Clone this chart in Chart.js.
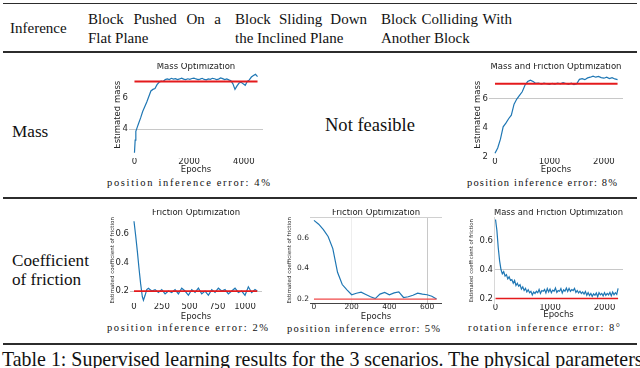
<!DOCTYPE html>
<html><head><meta charset="utf-8">
<script src="https://cdn.jsdelivr.net/npm/chart.js@4.4.1/dist/chart.umd.min.js"></script>
<style>
html,body{margin:0;padding:0;background:#fff;}
#page{position:relative;width:640px;height:368px;overflow:hidden;background:#fff;font-family:"Liberation Serif","Times New Roman",serif;color:#111;}
.t{position:absolute;white-space:nowrap;line-height:1;}
.rule{position:absolute;left:3px;width:634px;background:#2c2c2c;}
canvas{position:absolute;}
</style></head><body><div id="page">
<div class="rule" style="top:2.5px;height:1.5px"></div>
<div class="rule" style="top:50.5px;height:2px"></div>
<div class="rule" style="top:197px;height:1.5px"></div>
<div class="rule" style="top:342.5px;height:2.5px"></div>
<canvas id="c1"></canvas><canvas id="c2"></canvas><canvas id="c3"></canvas><canvas id="c4"></canvas><canvas id="c5"></canvas>
</div>
<script>
// ---------------- data ----------------
const headerTitle = "Inference";
const scenarioLine1 = [["Block","Pushed","On","a"],["Block","Sliding","Down"],["Block","Colliding","With"]];
const scenarioLine2 = ["Flat Plane","the Inclined Plane","Another Block"];
const rowLabels = [["Mass"],["Coefficient","of friction"]];
const notFeasible = "Not feasible";
const errorTexts = ["position inference error: 4%","position inference error: 8%","position inference error: 2%","position inference error: 5%","rotation inference error: 8°"];
const captionText = "Table 1: Supervised learning results for the 3 scenarios. The physical parameters";

const chartTitles = ["Mass Optimization","Mass and Friction Optimization","Friction Optimization","Friction Optimization","Mass and Friction Optimization"];
const yAxisLabels = ["Estimated mass","Estimated mass","Estimated coefficient of friction","Estimated coefficient of friction","Estimated coefficient of friction"];
const xAxisLabel = "Epochs";

const trueMass = 7;
const trueFriction = 0.2;

// Block pushed, mass
const pushMassEpochs = [0,25,50,100,150,225,300,375,450,525,600,675,750,825,900,975,1050,1125,1200,1275,1350,1425,1500,1575,1650,1725,1800,1875,1950,2025,2100,2175,2250,2325,2400,2475,2550,2625,2700,2775,2850,2925,3000,3075,3150,3225,3300,3375,3450,3525,3600,3675,3750,3825,3900,3975,4050,4125,4200,4275,4350,4425,4500];
const pushMassValues = [2.5,3.3,3.85,4.1,4.35,4.7,5.1,5.4,5.7,6.05,6.4,6.5,6.55,6.8,6.95,7.02,7.0,7.12,7.16,7.12,7.2,7.15,7.18,7.12,7.16,7.21,7.15,7.12,7.17,7.14,7.19,7.21,7.16,7.12,7.15,7.2,7.13,7.1,7.16,7.14,7.2,7.17,7.12,7.15,7.22,7.18,7.12,7.16,7.1,7.05,6.85,6.5,6.72,6.9,6.95,6.85,6.76,7.0,7.1,7.28,7.38,7.45,7.3];
const pushMassXTicks = [0,2000,4000];
const pushMassYTicks = [4,6];

// Block colliding, mass
const collideMassEpochs = [0,50,100,150,200,250,300,350,400,450,500,550,600,650,700,750,800,850,900,950,1000,1050,1100,1150,1200,1250,1300,1350,1400,1450,1500,1550,1600,1650,1700,1750,1800,1850,1900,1950,2000,2050,2100,2150,2200,2250];
const collideMassValues = [2.23,2.6,3.2,4.05,4.3,4.6,4.85,5.6,5.95,6.2,6.45,6.9,7.15,7.25,7.15,7.02,7.05,6.98,7.04,7.0,6.95,7.03,6.98,7.05,7.0,7.07,7.02,6.96,7.04,6.94,7.0,7.3,7.35,7.28,7.4,7.45,7.52,7.45,7.5,7.42,7.38,7.45,7.35,7.42,7.33,7.28];
const collideMassXTicks = [0,1000,2000];
const collideMassYTicks = [2,4,6];

// Block pushed, friction
const pushFricEpochs = [0,15,30,45,60,75,85,100,115,130,160,190,220,250,280,310,340,370,400,430,460,490,520,550,580,610,640,670,700,730,760,790,820,850,880,910,940,970,1000,1030,1060,1090,1110];
const pushFricValues = [0.69,0.59,0.48,0.36,0.25,0.16,0.135,0.17,0.21,0.22,0.2,0.21,0.19,0.21,0.18,0.2,0.19,0.21,0.18,0.22,0.2,0.17,0.21,0.19,0.22,0.18,0.2,0.17,0.21,0.19,0.22,0.2,0.21,0.18,0.2,0.22,0.19,0.2,0.17,0.23,0.19,0.21,0.2];
const pushFricXTicks = [0,250,500,750,1000];
const fricYTicks = [0.2,0.4,0.6];

// Block sliding, friction
const slideFricEpochs = [0,25,50,75,100,125,150,175,200,225,250,275,300,325,350,375,400,425,450,475,500,525,550,575,600,625,650];
const slideFricValues = [0.715,0.69,0.655,0.61,0.53,0.375,0.295,0.26,0.228,0.238,0.245,0.23,0.215,0.203,0.232,0.243,0.228,0.24,0.247,0.21,0.215,0.225,0.238,0.232,0.228,0.218,0.2];
const slideFricXTicks = [0,200,400,600];

// Block colliding, friction
const collideFricEpochs = [0,25,50,75,100,125,150,175,200,225,250,275,300,325,350,375,400,425,450,475,500,525,550,575,600,625,650,675,700,725,750,775,800,825,850,875,900,925,950,975,1000,1025,1050,1075,1100,1125,1150,1175,1200,1225,1250,1275,1300,1325,1350,1375,1400,1425,1450,1475,1500,1525,1550,1575,1600,1625,1650,1675,1700,1725,1750,1775,1800,1825,1850,1875,1900,1925,1950,1975,2000,2025,2050,2075,2100,2125,2150,2175,2200,2225,2250];
const collideFricValues = [
0.745,0.67,0.55,0.46,0.40,0.37,0.385,0.355,0.365,0.335,
0.35,0.325,0.33,0.305,0.325,0.29,0.305,0.285,0.295,0.265,
0.28,0.255,0.27,0.245,0.26,0.24,0.25,0.225,0.245,0.235,
0.25,0.24,0.262,0.235,0.255,0.25,0.262,0.238,0.268,0.245,
0.265,0.24,0.258,0.25,0.272,0.242,0.255,0.25,0.268,0.238,
0.26,0.25,0.272,0.248,0.27,0.25,0.262,0.255,0.27,0.242,
0.255,0.238,0.25,0.235,0.245,0.23,0.248,0.222,0.24,0.22,
0.235,0.215,0.232,0.222,0.238,0.212,0.24,0.225,0.235,0.218,
0.24,0.222,0.235,0.225,0.242,0.218,0.245,0.225,0.24,0.228,
0.27];
const collideFricXTicks = [0,1000,2000];

// ---------------- charts ----------------
const SANS = "'DejaVu Sans', sans-serif";
function lineChart(id, g, d){
  const cv = document.getElementById(id);
  cv.width = g.W; cv.height = g.H;
  cv.style.left = g.L+'px'; cv.style.top = g.T+'px';
  cv.style.width = g.W+'px'; cv.style.height = g.H+'px';
  const series = d.epochs.map((e,i)=>({x:e,y:d.values[i]}));
  const last = d.epochs[d.epochs.length-1];
  const truth = [{x:0,y:d.truth},{x:last,y:d.truth}];
  const scales = {
    x:{type:'linear',position:'bottom',min:g.xMin,max:g.xMax,
      afterBuildTicks:s=>{s.ticks=d.xTicks.map(v=>({value:v}));},
      afterFit:s=>{s.height=g.xH;},
      ticks:{autoSkip:false,maxRotation:0,minRotation:0,padding:g.xPad||0,color:'#262626',
        font:{family:SANS,size:g.tickFs||8.5,lineHeight:1},callback:v=>String(v)},
      grid:{drawTicks:false,lineWidth:1,color:c=>(g.xGrid&&c.tick&&g.xGrid[c.tick.value])||'rgba(0,0,0,0)'},
      border:{display:!!g.xBorder,color:g.xBorder||'#000',width:1},
      title:{display:true,text:xAxisLabel,color:'#262626',padding:0,font:{family:SANS,size:g.labFs||8.5,lineHeight:1}}
    },
    y:{type:'linear',position:'left',min:g.yMin,max:g.yMax,
      afterBuildTicks:s=>{s.ticks=d.yTicks.map(v=>({value:v}));},
      afterFit:s=>{s.width=g.yW;},
      ticks:{autoSkip:false,padding:g.yPad||1,color:'#262626',
        font:{family:SANS,size:g.tickFs||8.5,lineHeight:1},callback:d.yFmt},
      grid:{drawTicks:false,lineWidth:1,color:c=>(g.yGrid&&c.tick&&g.yGrid[c.tick.value])||'rgba(0,0,0,0)'},
      border:{display:!!g.yBorder,color:g.yBorder||'#000',width:1},
      title:{display:true,text:d.yLabel,color:'#262626',padding:0,font:{family:SANS,size:g.yLabFs||8.5,lineHeight:1}}
    }
  };
  if (g.frame){
    scales.x2 = {type:'linear',position:'top',min:0,max:1,display:true,ticks:{display:false},
      grid:{display:false,drawTicks:false},border:{display:true,color:g.frame,width:1},afterFit:s=>{s.height=0;}};
    scales.y2 = {type:'linear',position:'right',min:0,max:1,display:true,ticks:{display:false},
      grid:{display:false,drawTicks:false},border:{display:true,color:g.frame,width:1},afterFit:s=>{s.width=0;}};
  }
  return new Chart(cv,{
    type:'line',
    data:{datasets:[
      {data:truth,borderColor:g.red||'#e41a1c',borderWidth:g.redW||2,pointRadius:0,order:0},
      {data:series,borderColor:'#1f77b4',borderWidth:g.blueW||1.2,pointRadius:0,tension:0,order:1}
    ]},
    options:{
      responsive:false,animation:false,devicePixelRatio:1,events:[],
      layout:{padding:0},
      plugins:{legend:{display:false},tooltip:{enabled:false},
        title:{display:true,text:d.title,fullSize:false,color:'#1a1a1a',padding:0,
          font:{family:SANS,size:g.titleFs||8.5,weight:'normal',lineHeight:1}}},
      scales
    }
  });
}
const massFmt = v=>String(v);
const fricFmt = v=>v.toFixed(1);

lineChart('c1',{L:114,T:63,W:149,H:111,yW:15,xH:16,xMin:-200,xMax:4700,yMin:2.17,yMax:7.63,yGrid:{4:'#c8c8c8'},redW:2.2},
  {epochs:pushMassEpochs,values:pushMassValues,truth:trueMass,xTicks:pushMassXTicks,yTicks:pushMassYTicks,yFmt:massFmt,title:chartTitles[0],yLabel:yAxisLabels[0]});
lineChart('c2',{L:474,T:63,W:149,H:111,yW:15,xH:16,xMin:-110,xMax:2350,yMin:1.91,yMax:7.84,yGrid:{6:'#c8c8c8'},redW:2},
  {epochs:collideMassEpochs,values:collideMassValues,truth:trueMass,xTicks:collideMassXTicks,yTicks:collideMassYTicks,yFmt:massFmt,title:chartTitles[1],yLabel:yAxisLabels[1]});
lineChart('c3',{L:110,T:209,W:152,H:112,yW:20,xH:18,xMin:-36,xMax:1153,yMin:0.116,yMax:0.716,yLabFs:5.5,yGrid:{0.2:'#c8c8c8'},redW:1.8},
  {epochs:pushFricEpochs,values:pushFricValues,truth:trueFriction,xTicks:pushFricXTicks,yTicks:fricYTicks,yFmt:fricFmt,title:chartTitles[2],yLabel:yAxisLabels[2]});
lineChart('c4',{L:287,T:209,W:155,H:112,yW:23,xH:18,xMin:-21,xMax:679,yMin:0.174,yMax:0.734,tickFs:7.5,yLabFs:5.5,xPad:0.5,
  xGrid:{200:'#eeeeee',600:'#c8c8c8'},xBorder:'#444',frame:'#d0d0d0',redW:1.3,red:'#f04848'},
  {epochs:slideFricEpochs,values:slideFricValues,truth:trueFriction,xTicks:slideFricXTicks,yTicks:fricYTicks,yFmt:fricFmt,title:chartTitles[3],yLabel:yAxisLabels[3]});
lineChart('c5',{L:469,T:209,W:154,H:110,yW:25,xH:15,xMin:-28,xMax:2340,yMin:0.162,yMax:0.759,yLabFs:5.3,yGrid:{0.4:'#c8c8c8'},yBorder:'#d8d8d8',redW:1.5},
  {epochs:collideFricEpochs,values:collideFricValues,truth:trueFriction,xTicks:collideFricXTicks,yTicks:fricYTicks,yFmt:fricFmt,title:chartTitles[4],yLabel:yAxisLabels[4]});

// ---------------- table text ----------------
const page = document.getElementById('page');
function mk(txt){const e=document.createElement('div');e.className='t';e.textContent=txt;page.appendChild(e);return e;}
function fitSize(e,w){e.style.fontSize='20px';const r=e.getBoundingClientRect().width;const fs=20*w/r;e.style.fontSize=fs+'px';return fs;}
function atBase(e,x,base,fs){e.style.left=x+'px';e.style.top=(base-0.84*fs)+'px';}

const colLeft=[88,235,381], colRight=[221,367,512];
const fsH = 15;
scenarioLine2.forEach((s,i)=>{const e=mk(s);e.style.fontSize=fsH+'px';atBase(e,colLeft[i],43.3,fsH);});
scenarioLine1.forEach((words,i)=>{
  const e=mk('');e.style.display='flex';e.style.justifyContent='space-between';
  e.style.width=(colRight[i]-colLeft[i])+'px';e.style.fontSize=fsH+'px';
  words.forEach(w=>{const s=document.createElement('span');s.textContent=w;e.appendChild(s);});
  atBase(e,colLeft[i],25,fsH);
});
const inf=mk(headerTitle);inf.style.fontSize=fsH+'px';atBase(inf,10,33.3,fsH);

const coef=mk(rowLabels[1][0]);const fsR=fitSize(coef,77);atBase(coef,12,266.5,fsR);
const offr=mk(rowLabels[1][1]);offr.style.fontSize=fsR+'px';atBase(offr,12,285,fsR);
const mass=mk(rowLabels[0][0]);mass.style.fontSize=fsR+'px';atBase(mass,12,137.5,fsR);
const nf=mk(notFeasible);const fsN=fitSize(nf,90);
const nfw=nf.getBoundingClientRect().width;atBase(nf,370-nfw/2,132,fsN);

const errPos=[[107,183,163],[467,183,150],[107,328,161],[287,329,153],[468,328,152]];
errorTexts.forEach((t,i)=>{
  const e=mk(t);e.style.fontSize='10.5px';
  const w=e.getBoundingClientRect().width;
  e.style.letterSpacing=((errPos[i][2]-w)/(t.length-1))+'px';
  e.style.left=errPos[i][0]+'px';e.style.top=(errPos[i][1]-5.25)+'px';
});
const cap=mk(captionText);const fsC=fitSize(cap,641);atBase(cap,2,367,fsC);
</script>
</body></html>
